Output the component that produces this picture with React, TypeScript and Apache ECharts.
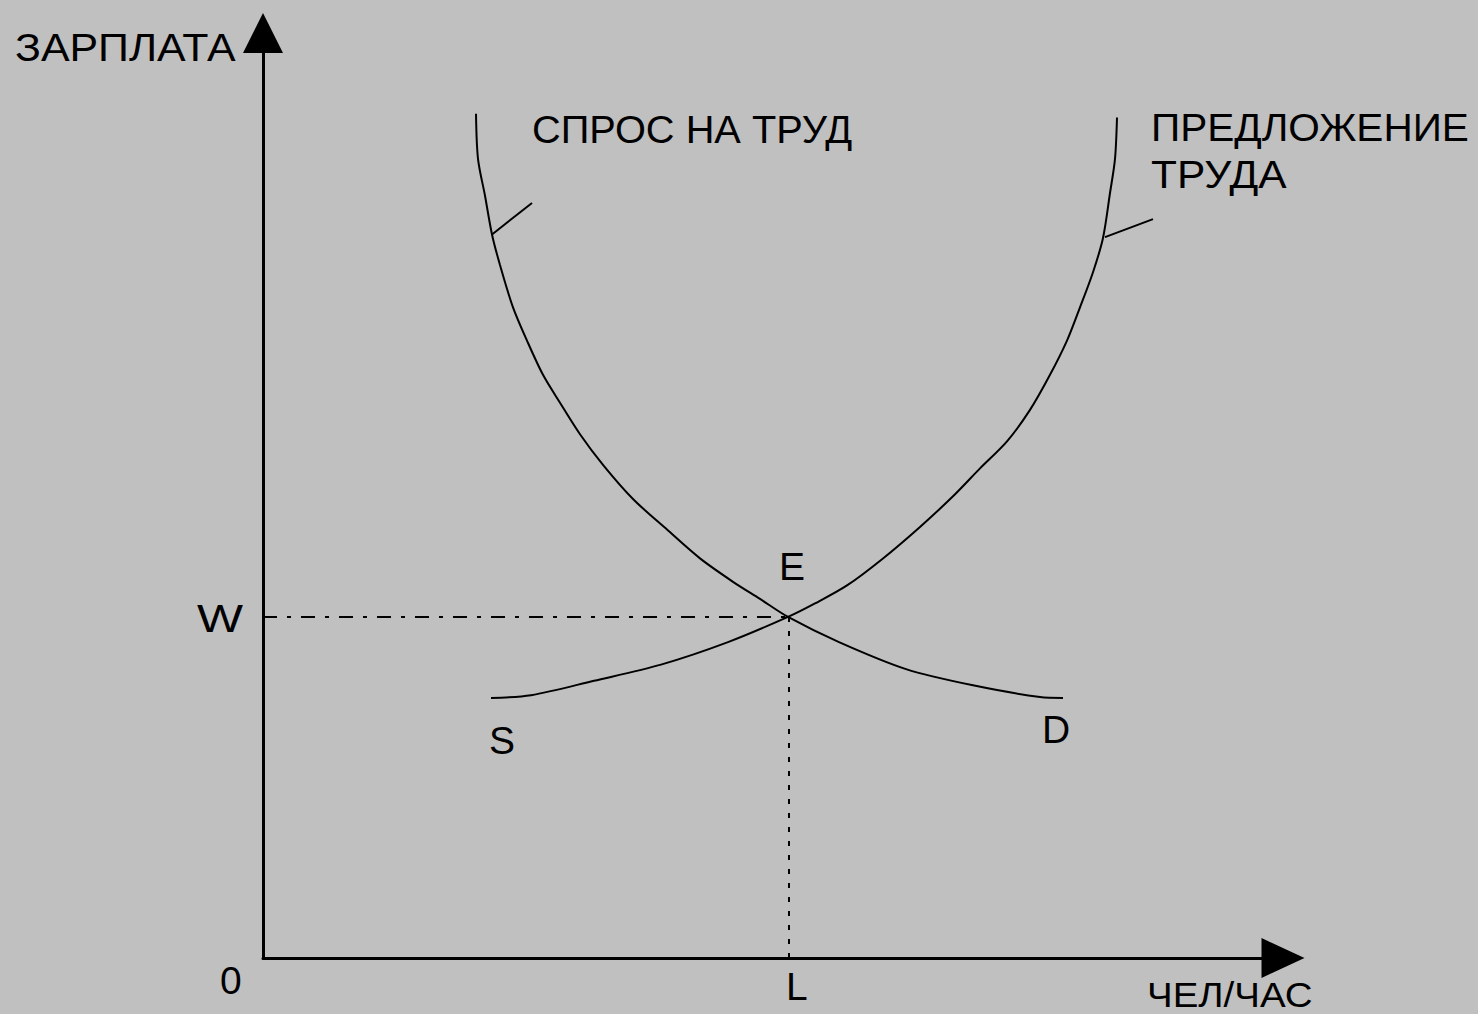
import React, { useEffect, useRef } from "react";
import * as echarts from "echarts";

// Demand curve (СПРОС НА ТРУД), in chart units
const demandX = [21.3, 21.5, 22.2, 22.9, 23.7, 25.0, 26.4, 28.0, 29.7, 31.7, 34.0, 37.0, 40.4, 43.7, 47.0, 49.7, 52.5, 57.6, 64.3, 71.0, 77.7, 80.0];
const demandY = [93.8, 88.8, 84.7, 80.4, 77.0, 72.3, 68.6, 64.8, 61.7, 58.2, 54.8, 51.0, 47.6, 44.4, 41.8, 39.9, 37.9, 35.1, 32.1, 30.3, 29.0, 28.9];

// Supply curve (ПРЕДЛОЖЕНИЕ ТРУДА)
const supplyX = [22.8, 26.8, 33.1, 39.8, 46.5, 52.5, 55.2, 58.4, 62.0, 65.7, 69.0, 71.7, 74.4, 76.7, 78.7, 80.4, 81.7, 83.0, 84.0, 84.7, 85.2, 85.4];
const supplyY = [28.9, 29.2, 30.8, 32.6, 35.1, 37.9, 39.4, 41.4, 44.4, 47.9, 51.3, 54.4, 57.4, 60.9, 64.8, 68.6, 72.3, 76.2, 80.0, 85.0, 88.8, 93.4];

// Equilibrium
const eqX = 52.6;
const eqY = 37.9;

// Leader ticks from curves to their labels
const demandTickX = [22.9, 26.9];
const demandTickY = [80.4, 83.9];
const supplyTickX = [84.2, 89.0];
const supplyTickY = [80.1, 82.1];

const FONT = "'Liberation Sans', Arial, sans-serif";

export default function App() {
  const ref = useRef<HTMLDivElement>(null);
  useEffect(() => {
    if (!ref.current) return;
    const chart = echarts.init(ref.current, undefined, { renderer: "svg" });
    const zip = (xs: number[], ys: number[]) => xs.map((x, i) => [x, ys[i]]);
    const black = "#000";
    const lineBase = { type: "line", symbol: "none", silent: true };
    const txt = (text: string, x: number, y: number, size = 39, scaleX = 1) => ({
      type: "text",
      x,
      y,
      scaleX,
      silent: true,
      style: {
        text,
        fill: "#000",
        font: `${size}px ${FONT}`,
        align: "left",
        verticalAlign: "middle",
      },
    });
    chart.setOption({
      animation: false,
      backgroundColor: "#c0c0c0",
      grid: { left: 263, right: 195, top: 33, bottom: 56 },
      xAxis: {
        type: "value",
        min: 0,
        max: 102,
        axisLine: {
          show: true,
          onZero: false,
          symbol: ["none", "triangle"],
          symbolSize: [40, 43],
          lineStyle: { color: black, width: 3 },
        },
        axisTick: { show: false },
        axisLabel: { show: false },
        splitLine: { show: false },
      },
      yAxis: {
        type: "value",
        min: 0,
        max: 102.78,
        axisLine: {
          show: true,
          onZero: false,
          symbol: ["none", "triangle"],
          symbolSize: [40, 40],
          lineStyle: { color: black, width: 3 },
        },
        axisTick: { show: false },
        axisLabel: { show: false },
        splitLine: { show: false },
      },
      series: [
        {
          ...lineBase,
          name: "Спрос на труд",
          smooth: 0.3,
          data: zip(demandX, demandY),
          lineStyle: { color: black, width: 2 },
        },
        {
          ...lineBase,
          name: "Предложение труда",
          smooth: 0.3,
          data: zip(supplyX, supplyY),
          lineStyle: { color: black, width: 2 },
        },
        {
          ...lineBase,
          data: zip(demandTickX, demandTickY),
          lineStyle: { color: black, width: 2 },
        },
        {
          ...lineBase,
          data: zip(supplyTickX, supplyTickY),
          lineStyle: { color: black, width: 2 },
        },
        {
          ...lineBase,
          data: [
            [0, eqY],
            [eqX, eqY],
          ],
          lineStyle: { color: black, width: 2, type: [14, 10, 4, 10] },
        },
        {
          ...lineBase,
          data: [
            [eqX, 0],
            [eqX, eqY],
          ],
          lineStyle: { color: black, width: 2, type: [5, 9] },
        },
      ],
      graphic: [
        txt("ЗАРПЛАТА", 15, 48, 39, 1.1),
        txt("СПРОС НА ТРУД", 532, 129, 39, 1.02),
        txt("ПРЕДЛОЖЕНИЕ", 1151, 127, 39, 1.04),
        txt("ТРУДА", 1151, 175, 39, 1.09),
        txt("E", 779, 566),
        txt("W", 197, 618, 39, 1.25),
        txt("S", 489, 740),
        txt("D", 1042, 729),
        txt("0", 220, 980),
        txt("L", 786, 986),
        txt("ЧЕЛ/ЧАС", 1147, 995, 35, 1.1),
      ],
    });
    return () => chart.dispose();
  }, []);
  return (
    <div
      ref={ref}
      style={{ position: "absolute", left: 0, top: 0, width: 1478, height: 1014, background: "#c0c0c0" }}
    />
  );
}
